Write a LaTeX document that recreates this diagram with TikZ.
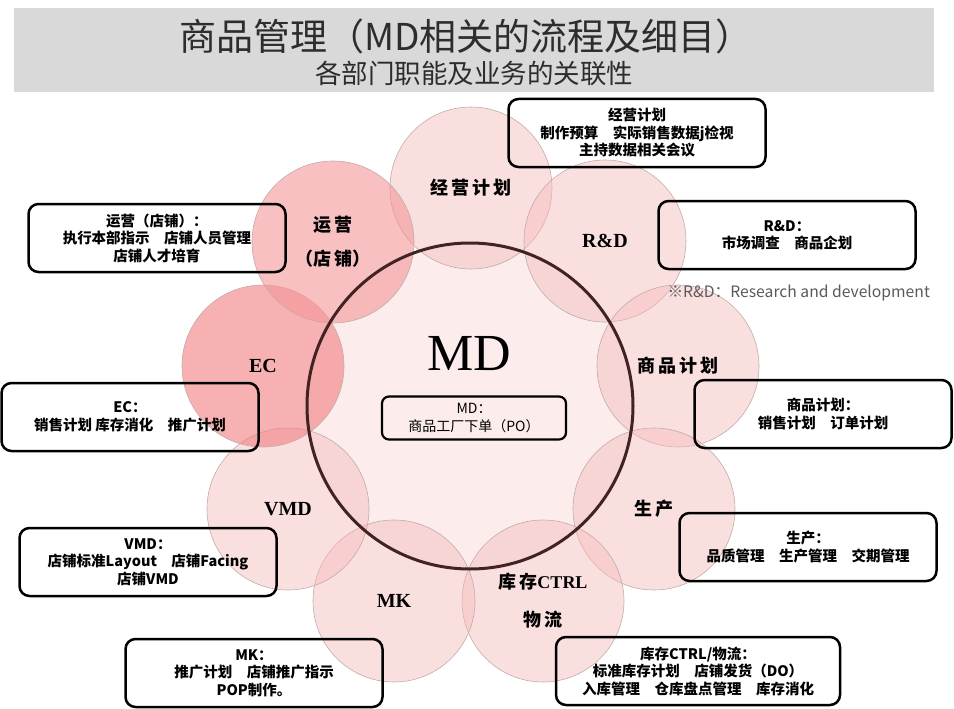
\documentclass[tikz,border=0pt]{standalone}
\usepackage{fontspec}
\setmainfont{Noto Sans CJK SC}
\newfontfamily\romfont{Liberation Serif}
\definecolor{bandgray}{RGB}{217,217,217}
\definecolor{ringpink}{RGB}{245,185,185}
\definecolor{opspink}{RGB}{244,150,152}
\definecolor{ecpink}{RGB}{242,125,128}
\definecolor{mdfill}{RGB}{252,236,236}
\definecolor{mdline}{RGB}{65,35,35}
\definecolor{rimgray}{RGB}{195,170,170}
\definecolor{titlegray}{RGB}{45,45,45}
\definecolor{notegray}{RGB}{90,90,90}

\begin{document}
\begin{tikzpicture}[line cap=round,line join=round,x=1pt,y=-1pt,
  dept/.style={circle,draw=rimgray,line width=0.6pt,fill=ringpink,fill opacity=0.45,text opacity=1,
    minimum size=162pt,inner sep=0pt,align=center,font=\bfseries\fontsize{18}{22}\selectfont},
  latin/.style={font=\romfont\bfseries\fontsize{20}{24}\selectfont},
  memo/.style={draw,line width=2.5pt,rounded corners=10pt,align=center,minimum width=257pt,
    minimum height=68pt,inner sep=2pt,font=\bfseries\fontsize{14.5}{17.5}\selectfont}]
\useasboundingbox (0,0) rectangle (954,709);
% title band
\fill [bandgray] (14,8) rectangle (934,92);
\node [text=titlegray,font=\fontsize{37}{37}\selectfont] (title) at (466,36) {商品管理（MD相关的流程及细目）};
\node [text=titlegray,font=\fontsize{26.5}{26.5}\selectfont] (subtitle) at (474,73) {各部门职能及业务的关联性};
% MD circle, outline comes later
\node [circle,fill=mdfill,minimum size=326pt,inner sep=0pt] (md) at (470,406) {};
% departments
\node [dept] (jy) at (471,188) {经\,营\,计\,划};
\node [dept,latin] (rd) at (605,241) {R\&D};
\node [dept] (sp) at (678,366) {商\,品\,计\,划};
\node [dept] (sc) at (654,509) {生\,产};
\node [dept] (kc) at (543,601) {库\,存{\romfont CTRL}\\[16pt]物\,流};
\node [dept,latin] (mk) at (394,601) {MK};
\node [dept,latin] (vmd) at (288,509) {VMD};
\node [dept,latin,fill=ecpink,fill opacity=0.6] (ec) at (263,366) {EC};
\node [dept,fill=opspink,fill opacity=0.6] (yy) at (333,242) {运\,营\\[12pt]（店\,铺）};
\draw [mdline,line width=3pt] (md.center) circle [radius=163pt];
\node [font=\romfont\fontsize{52}{52}\selectfont] (mdname) at (469,354) {MD};
% notes
\node [memo] (jybox) at (637,133) {经营计划\\制作预算　实际销售数据j检视\\主持数据相关会议};
\node [memo] (rdbox) at (787,235) {R\&D：\\市场调查　商品企划};
\node [text=notegray,font=\fontsize{15.7}{15.7}\selectfont,anchor=west] (rdnote) at (664,293) {※R\&D：Research and development};
\node [memo] (spbox) at (823,414) {商品计划：\\销售计划　订单计划};
\node [memo] (scbox) at (808,547) {生产：\\品质管理　生产管理　交期管理};
\node [memo,minimum width=284pt] (kcbox) at (698,671) {库存CTRL/物流：\\标准库存计划　店铺发货（DO）\\入库管理　仓库盘点管理　库存消化};
\node [memo] (mkbox) at (254,673) {MK：\\推广计划　店铺推广指示\\POP制作。};
\node [memo] (vmdbox) at (148,562) {VMD：\\店铺标准Layout　店铺Facing\\店铺VMD};
\node [memo] (ecbox) at (130,417) {EC：\\销售计划 库存消化　推广计划};
\node [memo] (yybox) at (157,238) {运营（店铺）：\\执行本部指示　店铺人员管理\\店铺人才培育};
\node [memo,minimum width=184pt,minimum height=43pt,line width=2.2pt,rounded corners=7pt,
  font=\fontsize{14}{18}\selectfont] (mdbox) at (474,418) {MD：\\商品工厂下单（PO）};
\end{tikzpicture}
\end{document}
